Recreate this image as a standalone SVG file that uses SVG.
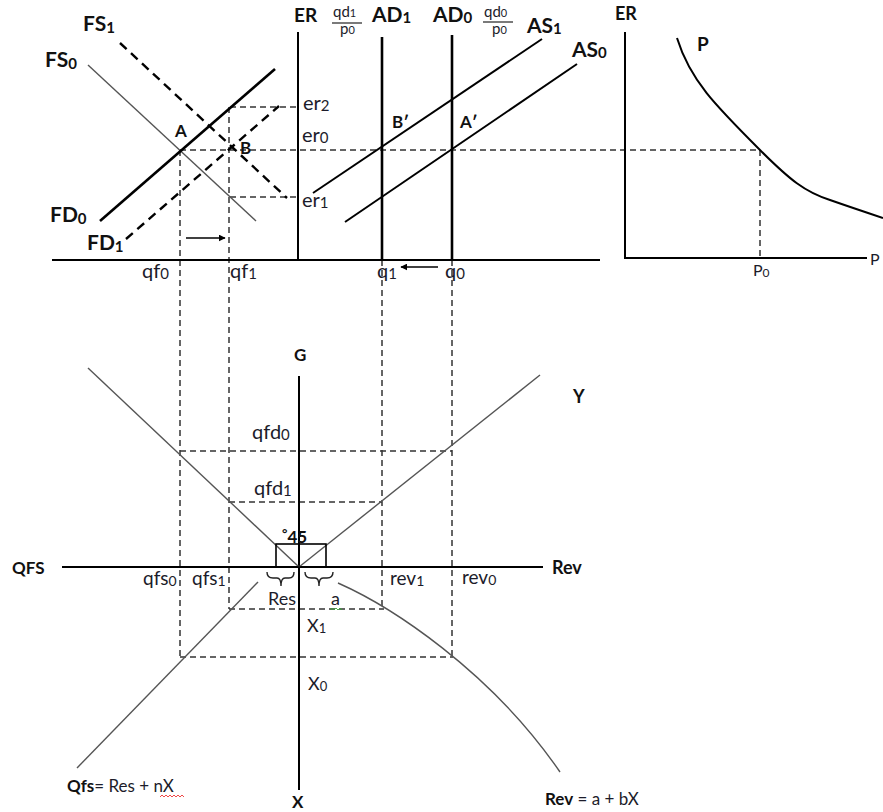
<svg xmlns="http://www.w3.org/2000/svg" width="883" height="812" viewBox="0 0 883 812">
<defs>
<marker id="ah" viewBox="0 0 10 10" refX="9" refY="5" markerWidth="7" markerHeight="7" markerUnits="userSpaceOnUse" orient="auto">
<path d="M0,0 L10,5 L0,10 z" fill="#000"/>
</marker>
<style>
text{font-family:Lato,"Liberation Sans",sans-serif;fill:#1c1c2a}
.b{font-weight:bold;fill:#111}
.lb{font-size:20px}
.bl{font-size:21px}
.sm{font-size:15px}
.axis{stroke:#000;stroke-width:2;fill:none}
.thick{stroke:#000;stroke-width:2.6;fill:none}
.thin{stroke:#555;stroke-width:1.4;fill:none}
.guide{stroke:#333;stroke-width:1.5;stroke-dasharray:6 4;fill:none}
.dash2{stroke:#000;stroke-width:2.4;stroke-dasharray:9 6;fill:none}
.arrow{stroke:#000;stroke-width:1.5;fill:none;marker-end:url(#ah)}
</style>
</defs>
<rect width="883" height="812" fill="#fff"/>

<g id="connectors">
<line class="guide" x1="180" y1="150" x2="760" y2="150"/>
<line class="guide" x1="230" y1="107" x2="298" y2="107"/>
<line class="guide" x1="230" y1="197" x2="298" y2="197"/>
<line class="guide" x1="180" y1="150" x2="180" y2="657"/>
<line class="guide" x1="229" y1="107" x2="229" y2="609"/>
<line class="guide" x1="382" y1="260" x2="382" y2="609"/>
<line class="guide" x1="452" y1="260" x2="452" y2="657"/>
<line class="guide" x1="760" y1="150" x2="760" y2="258"/>
<line class="guide" x1="180" y1="451" x2="452" y2="451"/>
<line class="guide" x1="229" y1="502" x2="382" y2="502"/>
<line class="guide" x1="229" y1="609" x2="384" y2="609"/>
<line class="guide" x1="180" y1="657" x2="453" y2="657"/>
<line class="arrow" x1="186" y1="238" x2="225" y2="238"/>
<line class="arrow" x1="438" y1="267" x2="401" y2="267"/>
</g>

<g id="top-left-panel">
<line class="axis" x1="52" y1="260" x2="600" y2="260"/>
<line class="axis" x1="298" y1="32" x2="298" y2="260"/>
<line class="thin" x1="88" y1="65" x2="256" y2="221"/>
<line class="dash2" x1="120" y1="43" x2="287" y2="198"/>
<line class="thick" x1="100" y1="221" x2="275" y2="69"/>
<line class="dash2" x1="126" y1="239" x2="279" y2="106"/>
<text class="b bl" x="83" y="31">FS<tspan font-size="15" dy="2">1</tspan></text>
<text class="b bl" x="45" y="67">FS<tspan font-size="15" dy="2">0</tspan></text>
<text class="b bl" x="50" y="222">FD<tspan font-size="15" dy="2">0</tspan></text>
<text class="b bl" x="87" y="250">FD<tspan font-size="15" dy="2">1</tspan></text>
<text class="b" font-size="17" x="175" y="137">A</text>
<text class="b" font-size="17" x="240" y="154">B</text>
<text class="lb" x="142" y="278">qf<tspan font-size="15" dy="1">0</tspan></text>
<text class="lb" x="230" y="278">qf<tspan font-size="15" dy="1">1</tspan></text>
</g>

<g id="top-middle-panel">
<line class="thick" x1="382" y1="37" x2="382" y2="260"/>
<line class="thick" x1="452" y1="35" x2="452" y2="260"/>
<line class="axis" x1="313" y1="193" x2="542" y2="39"/>
<line class="axis" x1="345" y1="222" x2="577" y2="64"/>
<text class="b" font-size="19" x="294" y="22">ER</text>
<text class="sm" x="333" y="17">qd<tspan font-size="11">1</tspan></text>
<line x1="332" y1="23" x2="362" y2="23" stroke="#222" stroke-width="1.2"/>
<text class="sm" x="340" y="34">p<tspan font-size="11">0</tspan></text>
<text class="b bl" x="372" y="22">AD<tspan font-size="15" dy="1">1</tspan></text>
<text class="b bl" x="433" y="22">AD<tspan font-size="15" dy="1">0</tspan></text>
<text class="sm" x="484" y="17">qd<tspan font-size="11">0</tspan></text>
<line x1="483" y1="22" x2="513" y2="22" stroke="#222" stroke-width="1.2"/>
<text class="sm" x="492" y="34">p<tspan font-size="11">0</tspan></text>
<text class="b bl" x="527" y="33">AS<tspan font-size="15" dy="1">1</tspan></text>
<text class="b bl" x="572" y="57">AS<tspan font-size="15" dy="1">0</tspan></text>
<text class="lb" x="303" y="110">er<tspan font-size="15" dy="1">2</tspan></text>
<text class="lb" x="302" y="142">er<tspan font-size="15" dy="1">0</tspan></text>
<text class="lb" x="302" y="207">er<tspan font-size="15" dy="1">1</tspan></text>
<text class="b" font-size="17" x="392" y="128">B′</text>
<text class="b" font-size="17" x="460" y="128">A′</text>
<text class="lb" x="377" y="278">q<tspan font-size="15" dy="1">1</tspan></text>
<text class="lb" x="445" y="278">q<tspan font-size="15" dy="1">0</tspan></text>
</g>

<g id="right-panel">
<line class="axis" x1="625" y1="32" x2="625" y2="259"/>
<line class="axis" x1="625" y1="258" x2="867" y2="258"/>
<path class="axis" d="M677,38 C690,80 715,105 760,150 C790,180 805,192 830,200 C850,207 865,212 883,218"/>
<text class="b" font-size="18" x="615" y="20">ER</text>
<text class="b" font-size="19" x="697" y="51">P</text>
<text font-size="16" x="753" y="276">P<tspan font-size="12" dy="1">0</tspan></text>
<text font-size="16" x="870" y="265">P</text>
</g>

<g id="bottom-panel">
<line class="axis" x1="299" y1="376" x2="299" y2="790"/>
<line class="axis" x1="62" y1="567" x2="543" y2="567"/>
<line class="thin" x1="88" y1="368" x2="299" y2="567"/>
<line class="thin" x1="299" y1="567" x2="540" y2="375"/>
<rect x="276" y="544" width="50" height="23" fill="none" stroke="#000" stroke-width="1.6"/>
<line class="thin" x1="258" y1="582" x2="77" y2="768"/>
<path class="thin" d="M338,583 C390,606 490,670 560,772"/>
<path d="M267,572 Q267,578 273,578 L277,578 Q281,578 281,586 Q281,578 285,578 L289,578 Q294,578 294,572" fill="none" stroke="#222" stroke-width="1.4"/>
<path d="M305,572 Q305,578 311,578 L315,578 Q319,578 319,586 Q319,578 323,578 L327,578 Q333,578 333,572" fill="none" stroke="#222" stroke-width="1.4"/>
<text class="b" font-size="17" x="294" y="361">G</text>
<text class="b" font-size="18" x="573" y="403">Y</text>
<text class="lb" x="252" y="439">qfd<tspan font-size="15" dy="1">0</tspan></text>
<text class="lb" x="254" y="495">qfd<tspan font-size="15" dy="1">1</tspan></text>
<text class="b" font-size="17" x="282" y="543"><tspan font-size="13" dy="-5">°</tspan><tspan dy="5">45</tspan></text>
<text class="b" font-size="17" x="12" y="574">QFS</text>
<text class="b" font-size="18" x="552" y="574">Rev</text>
<text font-size="19" x="143" y="585">qfs<tspan font-size="14" dy="1">0</tspan></text>
<text font-size="19" x="192" y="585">qfs<tspan font-size="14" dy="1">1</tspan></text>
<text font-size="19" x="390" y="585">rev<tspan font-size="14" dy="1">1</tspan></text>
<text font-size="19" x="462" y="584">rev<tspan font-size="14" dy="1">0</tspan></text>
<text font-size="18" x="268" y="605">Res</text>
<text font-size="18" x="331" y="605">a</text>
<path d="M330,610 l2,-2 l2,2 l2,-2 l2,2 l2,-2 l2,2" fill="none" stroke="#3a3" stroke-width="0.9"/>
<text font-size="18" x="307" y="632">X<tspan font-size="13" dy="1">1</tspan></text>
<text font-size="18" x="308" y="690">X<tspan font-size="13" dy="1">0</tspan></text>
<text class="b" font-size="17" x="292" y="808">X</text>
<text font-size="17" x="67" y="792"><tspan class="b">Qfs</tspan>= Res + nX</text>
<path d="M160,797 l2,-2 l2,2 l2,-2 l2,2 l2,-2 l2,2 l2,-2 l2,2 l2,-2 l2,2 l2,-2 l2,2" fill="none" stroke="#e33" stroke-width="0.9"/>
<text font-size="17" x="545" y="805"><tspan class="b">Rev</tspan> = a + bX</text>
</g>
</svg>
